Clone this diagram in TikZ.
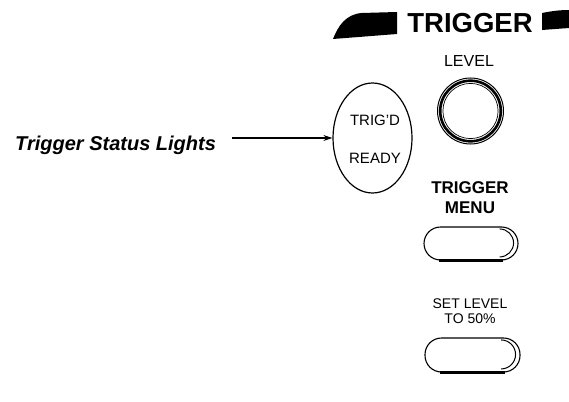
\documentclass[tikz,border=0pt]{standalone}
\usepackage{fontspec}
\setmainfont{Liberation Sans}
\usetikzlibrary{shapes.geometric,arrows.meta}
\tikzset{
  lbl/.style={inner sep=0pt, anchor=base},
  btn/.style={draw, line width=1.1pt, rounded corners=16.5pt},
}
\newcommand{\fsz}[1]{\fontsize{#1}{#1}\selectfont}
\begin{document}
\begin{tikzpicture}[x=1pt,y=-1pt]
\useasboundingbox (0,0) rectangle (569,401);
% header wedges
\fill (333,39) .. controls (338,26) and (346,14) .. (362,13) -- (397,12) -- (397,34) -- cycle;
\fill (542,13) .. controls (552,11) and (560,10) .. (569,10) -- (569,28) -- (542,30) -- cycle;
\node[lbl] (hdr) at (470,33) {\fsz{27.5}\bfseries TRIGGER};
% level knob
\node[lbl] (level) at (469,67) {\fsz{16}LEVEL};
\node[circle, draw, line width=1pt, minimum size=66pt, inner sep=0pt] (knob) at (470.5,111) {};
\draw[line width=2.6pt] (knob.center) circle[radius=30.3];
\draw[line width=0.7pt] (knob.center) circle[radius=27.6];
% status lights
\node[ellipse, draw, line width=1.2pt, minimum width=79pt, minimum height=110pt, inner sep=0pt] (ell) at (372.5,138) {};
\node[lbl] (trigd) at (375,125) {\fsz{15}TRIG'D};
\node[lbl] (ready) at (375,163) {\fsz{15}READY};
\node[inner sep=0pt, anchor=base west] (tsl) at (15,150) {\fsz{20}\bfseries\itshape Trigger Status Lights};
\draw[line width=1.1pt, -{Stealth[length=9pt,width=6pt]}] ([xshift=16pt]tsl.east |- ell.west) -- (ell.west);
% trigger menu
\node[lbl] (tm1) at (470,193) {\fsz{17}\bfseries TRIGGER};
\node[lbl] (tm2) at (470,213) {\fsz{17}\bfseries MENU};
\node[btn, minimum width=94pt, minimum height=33pt, inner sep=0pt] (b1) at (471,243.5) {};
\draw[line width=2.2pt] ([xshift=16pt]b1.south west) -- ([xshift=-16pt]b1.south east);
\draw[line width=1pt] ([xshift=-19pt,yshift=-2.5pt]b1.north east) arc[start angle=90, end angle=-90, radius=14pt];
% set level to 50%
\node[lbl] (sl1) at (470,308) {\fsz{14}SET LEVEL};
\node[lbl] (sl2) at (470,323) {\fsz{14}TO 50\%};
\node[btn, minimum width=95pt, minimum height=34pt, inner sep=0pt] (b2) at (472.5,355) {};
\draw[line width=2.2pt] ([xshift=16pt]b2.south west) -- ([xshift=-16pt]b2.south east);
\draw[line width=1pt] ([xshift=-19.5pt,yshift=-2.5pt]b2.north east) arc[start angle=90, end angle=-90, radius=14.5pt];
\end{tikzpicture}
\end{document}
